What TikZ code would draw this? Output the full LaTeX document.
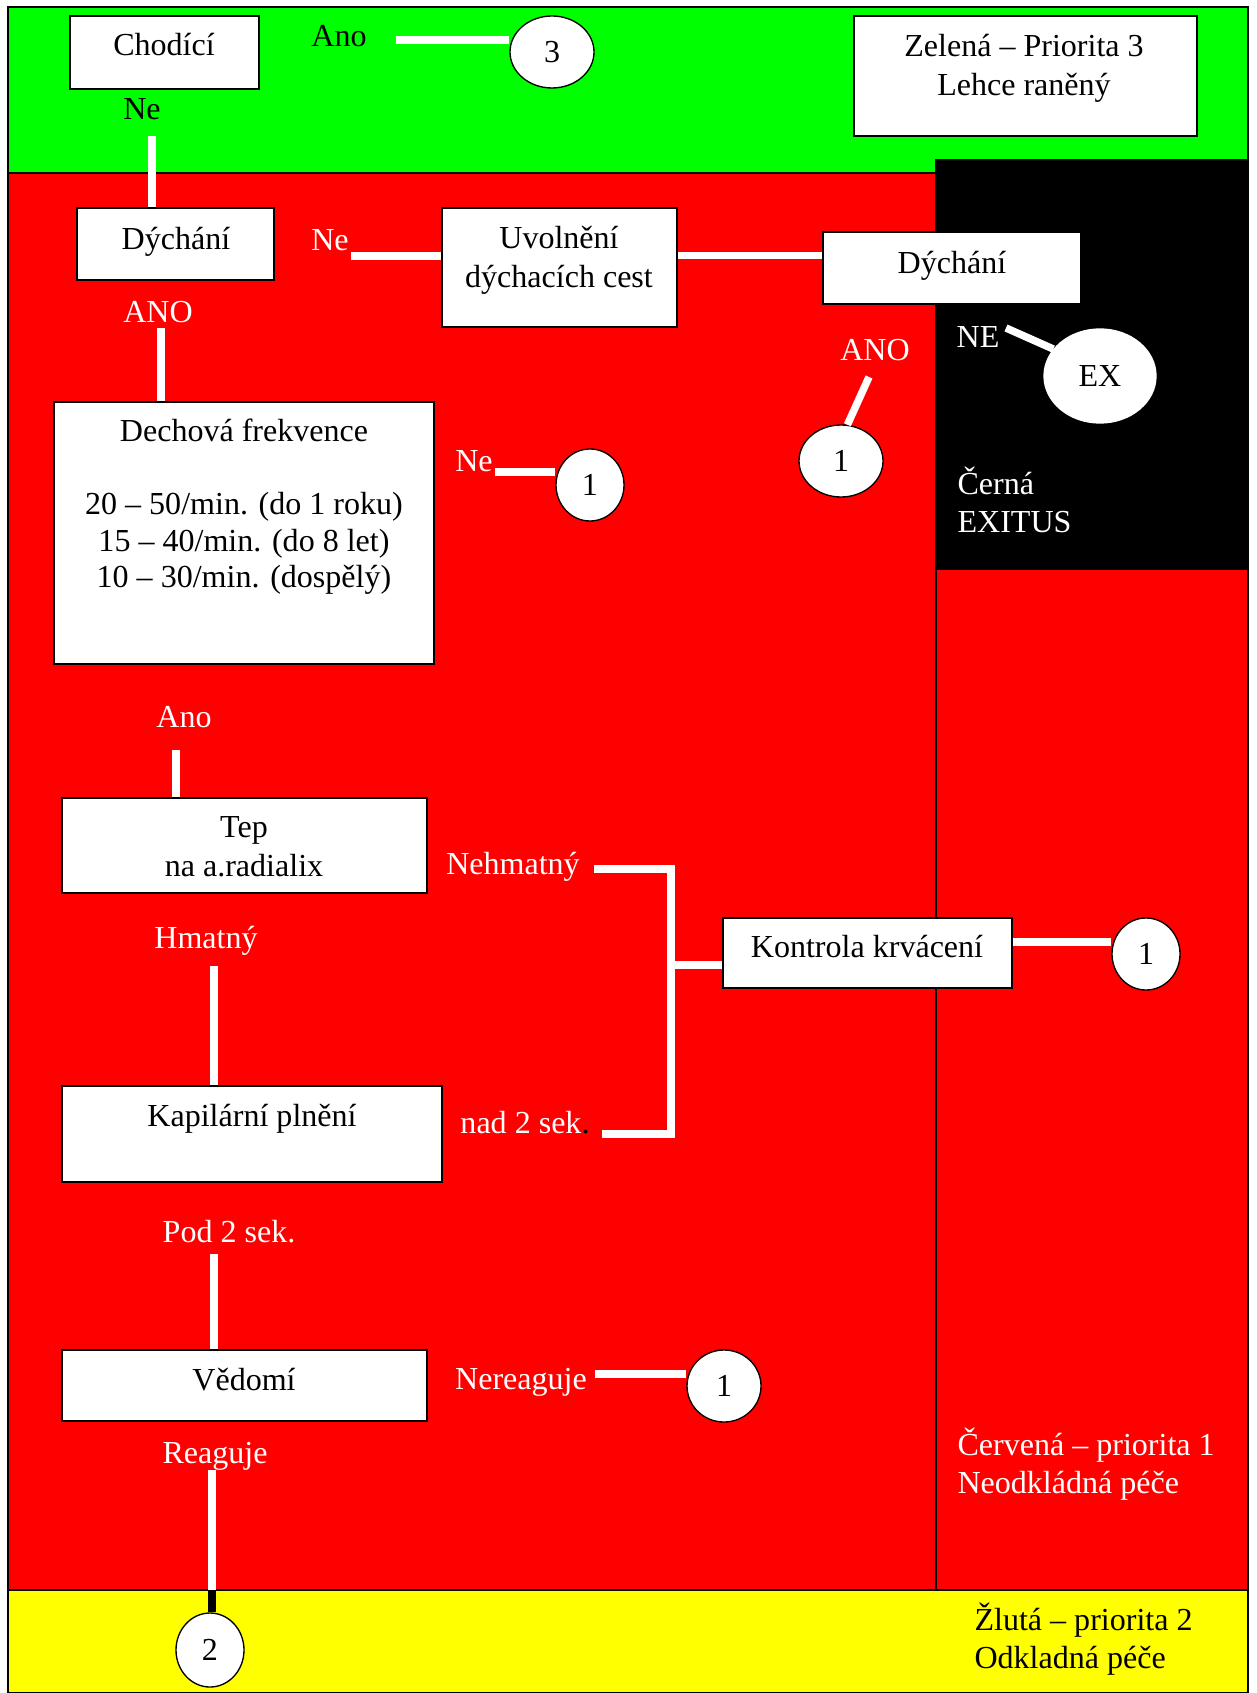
\documentclass[tikz,border=0pt,12pt]{standalone}
\usepackage{fontspec}
\setmainfont{Liberation Serif}
\usetikzlibrary{shapes.geometric}

\definecolor{zelena}{RGB}{0,255,0}
\definecolor{cervena}{RGB}{255,0,0}
\definecolor{zluta}{RGB}{255,255,0}

\newdimen\px
\px=0.3745pt

\tikzset{
  box/.style={draw=black, fill=white, line width=0.5pt, inner sep=0pt},
  bubble/.style={ellipse, draw=black, fill=white, line width=0.5pt, inner sep=0pt},
  conn/.style={white, line width=2.8pt},
  txt/.style={inner sep=0pt, align=center},
  lab/.style={white, inner sep=0pt, text height=8pt, text depth=0pt},
  blab/.style={lab, black},
}

\begin{document}
\begin{tikzpicture}[x=0.3745pt, y=-0.3745pt]

\useasboundingbox (0,0) rectangle (1256,1693);

\draw [fill=zelena, line width=0.4pt] (8,7) rectangle (1248,173);
\draw [fill=cervena, line width=0.4pt] (8,173) rectangle (936,1590);
\draw [fill=cervena, line width=0.4pt] (936,569) rectangle (1248,1590);
\draw [fill=black] (936,160) rectangle (1248,569);
\draw [fill=zluta, line width=0.4pt] (8,1590) rectangle (1248,1693);

\node[box, minimum width=189\px, minimum height=73\px] (chod) at (164.5,52.5) {};
\node[box, minimum width=197\px, minimum height=72\px] (dych) at (175.5,244) {};
\node[box, minimum width=235\px, minimum height=119\px] (uvol) at (559.5,267.5) {};
\node[box, minimum width=258\px, minimum height=72\px] (dych2) at (952,268) {};
\node[box, minimum width=343\px, minimum height=120\px] (zel) at (1025.5,76) {};
\node[box, minimum width=380\px, minimum height=262\px] (dech) at (244,533) {};
\node[box, minimum width=365\px, minimum height=95\px] (tep) at (244.5,845.5) {};
\node[box, minimum width=289\px, minimum height=70\px] (kontr) at (867.5,953) {};
\node[box, minimum width=380\px, minimum height=96\px] (kap) at (252,1134) {};
\node[box, minimum width=365\px, minimum height=71\px] (ved) at (244.5,1385.5) {};

\node[lab, black] (chodT) at (164,45) {Chodící};
\node[lab, black] (dychT) at (176,239) {Dýchání};
\node[txt] (uvolT) at (559,260) {Uvolnění\\dýchacích cest};
\node[lab, black] (dych2T) at (952,263) {Dýchání};
\node[txt] (zelT) at (1024,68) {Zelená – Priorita 3\\Lehce raněný};
\node[txt, font=\fontsize{12pt}{13.7pt}\selectfont] (dechT) at (244,507)
  {Dechová frekvence\\[13.7pt]20 – 50/min. (do 1 roku)\\15 – 40/min. (do 8 let)\\10 – 30/min. (dospělý)};
\node[txt] (tepT) at (244,847) {Tep\\na a.radialix};
\node[lab, black] (kontrT) at (867,947) {Kontrola krvácení};
\node[lab, black] (kapT) at (252,1116) {Kapilární plnění};
\node[lab, black] (vedT) at (244,1380) {Vědomí};

\node[bubble, minimum width=84\px, minimum height=72\px] (c3) at (552,52) {3};
\node[bubble, minimum width=84\px, minimum height=72\px] (c1a) at (841,461) {1};
\node[bubble, draw=white, minimum width=112\px, minimum height=94\px] (ex) at (1100,376) {EX};
\node[bubble, minimum width=68\px, minimum height=72\px] (c1b) at (590,485) {1};
\node[bubble, minimum width=68\px, minimum height=72\px] (c1c) at (1146,954) {1};
\node[bubble, minimum width=74\px, minimum height=72\px] (c1d) at (724,1386) {1};
\node[bubble, minimum width=68\px, minimum height=74\px] (c2) at (210,1650) {2};

\node[blab] (ano3) at (339,36) {Ano};
\node[blab] (ne1) at (142,109) {Ne};
\node[lab] (ne2) at (330,240) {Ne};
\node[lab] (ano1) at (158,312) {ANO};
\node[lab] (ano2) at (875,350) {ANO};
\node[lab] (ne4) at (978,337) {NE};
\node[lab] (ne3) at (474,461) {Ne};
\node[lab] (ano4) at (184,717) {Ano};
\node[lab] (nehm) at (513,864) {Nehmatný};
\node[lab] (hmat) at (206,938) {Hmatný};
\node[lab] (nad) at (525,1123) {nad 2 sek\textcolor{black}{.}};
\node[lab] (pod) at (229,1232) {Pod 2 sek.};
\node[lab] (nereag) at (521,1379) {Nereaguje};
\node[lab] (reag) at (215,1453) {Reaguje};

\node[txt, white, align=left, anchor=west] (cerna) at (957,500) {Černá\\EXITUS};
\node[txt, white, align=left, anchor=west] (cerv) at (957,1464) {Červená – priorita 1\\Neodkládná péče};
\node[txt, black, align=left, anchor=west] (zlut) at (974,1639) {Žlutá – priorita 2\\Odkladná péče};

\coordinate (a3s) at (396,40);
\coordinate (n1s) at (152,136);
\coordinate (n2s) at (351,256);
\coordinate (a2s) at (869,377);
\coordinate (n4s) at (1006,328);
\coordinate (a1s) at (161,328);
\coordinate (n3s) at (495,472);
\coordinate (a4s) at (176,750);
\coordinate (nehs) at (594,869);
\coordinate (nads) at (602,1134);
\coordinate (bk) at (671,965);
\coordinate (hms) at (214,966);
\coordinate (pods) at (214,1254);
\coordinate (nrs) at (595,1374);
\coordinate (res) at (212,1470);
\coordinate (yb) at (212,1590);

\draw[conn] (a3s) -- (a3s -| c3.west);
\draw[conn] (n1s) -- (n1s |- dych.north);
\draw[conn] (n2s) -- (n2s -| uvol.west);
\draw[conn] (uvol.east) ++(0,-12) coordinate (u1) -- (u1 -| dych2.west);
\draw[conn] (a2s) -- (c1a.80);
\draw[conn] (n4s) -- (ex.150);
\draw[conn] (a1s) -- (a1s |- dech.north);
\draw[conn] (n3s) -- (n3s -| c1b.west);
\draw[conn] (a4s) -- (a4s |- tep.north);
\draw[conn] (nehs) -| (bk) |- (nads);
\draw[conn] (bk) -- (bk -| kontr.west);
\draw[conn] (kontr.east) ++(0,-11) coordinate (k1) -- (k1 -| c1c.west);
\draw[conn] (hms) -- (hms |- kap.north);
\draw[conn] (pods) -- (pods |- ved.north);
\draw[conn] (nrs) -- (nrs -| c1d.west);
\draw[conn] (res) -- (yb);
\draw[conn, black] (yb) -- (yb |- c2.north);

\end{tikzpicture}
\end{document}
